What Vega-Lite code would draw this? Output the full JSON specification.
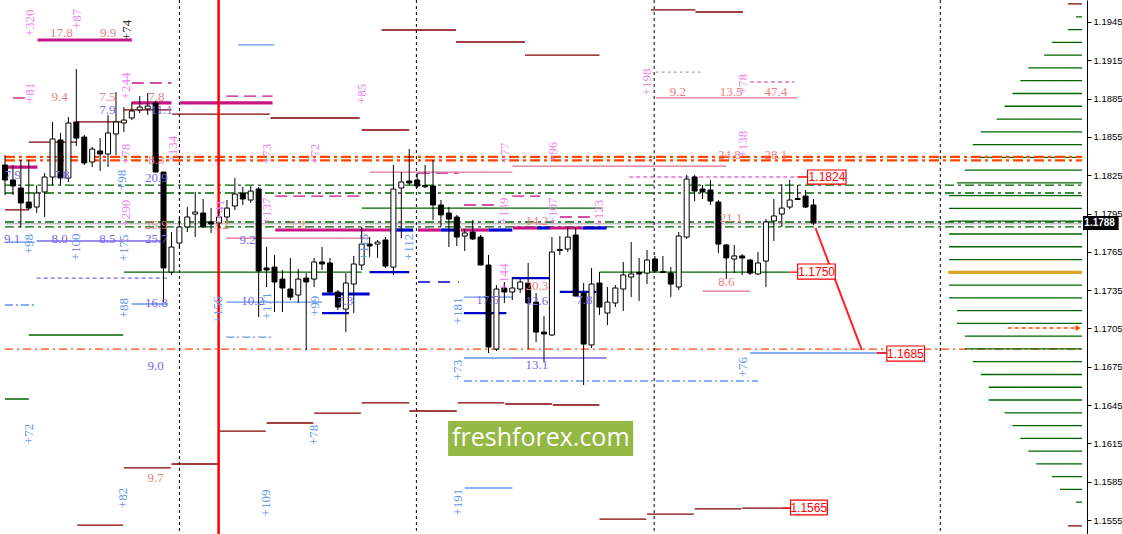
{
"$schema":"https://vega.github.io/schema/vega-lite/v6.json",
"width":1087,"height":534,
"autosize":{"type":"none"},
"padding":{"left":0,"top":0,"right":35,"bottom":0},
"background":"white",
"config":{"view":{"stroke":null},"axis":{"title":null,"format":".4f","labelFont":"Liberation Sans","labelFontSize":9.5,"labelColor":"black","tickColor":"black","domainColor":"black","tickSize":4,"labelPadding":2,"grid":false,"labelOverlap":false}},
"resolve":{"scale":{"color":"independent","strokeDash":"independent"}},
"datasets":{
"candles":[
{"k":0,"o":1.18330,"c":1.18213,"h":1.18408,"l":1.18095},
{"k":1,"o":1.18213,"c":1.18166,"h":1.18330,"l":1.18095},
{"k":2,"o":1.18150,"c":1.18033,"h":1.18369,"l":1.17837},
{"k":3,"o":1.18040,"c":1.17993,"h":1.18369,"l":1.17978},
{"k":4,"o":1.18001,"c":1.18111,"h":1.18173,"l":1.17954},
{"k":5,"o":1.18119,"c":1.18236,"h":1.18267,"l":1.17923},
{"k":6,"o":1.18236,"c":1.18534,"h":1.18667,"l":1.18173},
{"k":7,"o":1.18526,"c":1.18228,"h":1.18581,"l":1.18173},
{"k":8,"o":1.18228,"c":1.18659,"h":1.18706,"l":1.18197},
{"k":9,"o":1.18667,"c":1.18541,"h":1.19082,"l":1.18479},
{"k":10,"o":1.18549,"c":1.18346,"h":1.18565,"l":1.18330},
{"k":11,"o":1.18354,"c":1.18455,"h":1.18471,"l":1.18314},
{"k":12,"o":1.18440,"c":1.18416,"h":1.18541,"l":1.18283},
{"k":13,"o":1.18416,"c":1.18581,"h":1.18722,"l":1.18314},
{"k":14,"o":1.18573,"c":1.18667,"h":1.18902,"l":1.18408},
{"k":15,"o":1.18659,"c":1.18682,"h":1.18784,"l":1.18588},
{"k":16,"o":1.18698,"c":1.18753,"h":1.18823,"l":1.18682},
{"k":17,"o":1.18761,"c":1.18784,"h":1.18870,"l":1.18737},
{"k":18,"o":1.18769,"c":1.18792,"h":1.18894,"l":1.18722},
{"k":19,"o":1.18816,"c":1.18275,"h":1.18831,"l":1.18275},
{"k":20,"o":1.18275,"c":1.17524,"h":1.18275,"l":1.17257},
{"k":21,"o":1.17492,"c":1.17688,"h":1.17805,"l":1.17469},
{"k":22,"o":1.17719,"c":1.17845,"h":1.17915,"l":1.17680},
{"k":23,"o":1.17845,"c":1.17923,"h":1.18001,"l":1.17805},
{"k":24,"o":1.17946,"c":1.17962,"h":1.18119,"l":1.17766},
{"k":25,"o":1.17954,"c":1.17845,"h":1.18064,"l":1.17837},
{"k":26,"o":1.17884,"c":1.17868,"h":1.17993,"l":1.17798},
{"k":27,"o":1.17876,"c":1.17923,"h":1.17993,"l":1.17837},
{"k":28,"o":1.17923,"c":1.17993,"h":1.18056,"l":1.17884},
{"k":29,"o":1.18009,"c":1.18103,"h":1.18228,"l":1.17978},
{"k":30,"o":1.18111,"c":1.18064,"h":1.18158,"l":1.18017},
{"k":31,"o":1.18056,"c":1.18126,"h":1.18166,"l":1.18033},
{"k":32,"o":1.18142,"c":1.17500,"h":1.18158,"l":1.17140},
{"k":33,"o":1.17524,"c":1.17508,"h":1.17688,"l":1.17375},
{"k":34,"o":1.17531,"c":1.17414,"h":1.17625,"l":1.17179},
{"k":35,"o":1.17437,"c":1.17367,"h":1.17508,"l":1.17179},
{"k":36,"o":1.17359,"c":1.17296,"h":1.17602,"l":1.17273},
{"k":37,"o":1.17312,"c":1.17437,"h":1.17516,"l":1.17250},
{"k":38,"o":1.17445,"c":1.17414,"h":1.17484,"l":1.16881},
{"k":39,"o":1.17437,"c":1.17571,"h":1.17602,"l":1.17375},
{"k":40,"o":1.17571,"c":1.17555,"h":1.17688,"l":1.17508},
{"k":41,"o":1.17563,"c":1.17336,"h":1.17602,"l":1.17328},
{"k":42,"o":1.17336,"c":1.17218,"h":1.17351,"l":1.17195},
{"k":43,"o":1.17202,"c":1.17406,"h":1.17484,"l":1.17022},
{"k":44,"o":1.17398,"c":1.17555,"h":1.17618,"l":1.17171},
{"k":45,"o":1.17547,"c":1.17711,"h":1.17845,"l":1.17508},
{"k":46,"o":1.17711,"c":1.17696,"h":1.17766,"l":1.17610},
{"k":47,"o":1.17711,"c":1.17727,"h":1.17743,"l":1.17602},
{"k":48,"o":1.17743,"c":1.17539,"h":1.17766,"l":1.17524},
{"k":49,"o":1.17531,"c":1.18142,"h":1.18330,"l":1.17469},
{"k":50,"o":1.18150,"c":1.18197,"h":1.18275,"l":1.17758},
{"k":51,"o":1.18205,"c":1.18189,"h":1.18455,"l":1.18173},
{"k":52,"o":1.18213,"c":1.18166,"h":1.18267,"l":1.18150},
{"k":53,"o":1.18170,"c":1.18160,"h":1.18330,"l":1.18150},
{"k":54,"o":1.18166,"c":1.18017,"h":1.18369,"l":1.17899},
{"k":55,"o":1.18017,"c":1.17939,"h":1.18056,"l":1.17845},
{"k":56,"o":1.17954,"c":1.17907,"h":1.18001,"l":1.17688},
{"k":57,"o":1.17923,"c":1.17766,"h":1.17939,"l":1.17696},
{"k":58,"o":1.17774,"c":1.17798,"h":1.17829,"l":1.17657},
{"k":59,"o":1.17805,"c":1.17751,"h":1.17899,"l":1.17743},
{"k":60,"o":1.17766,"c":1.17547,"h":1.17782,"l":1.17547},
{"k":61,"o":1.17547,"c":1.16905,"h":1.17625,"l":1.16858},
{"k":62,"o":1.16889,"c":1.17359,"h":1.17390,"l":1.16874},
{"k":63,"o":1.17367,"c":1.17336,"h":1.17414,"l":1.17250},
{"k":64,"o":1.17336,"c":1.17367,"h":1.17453,"l":1.17273},
{"k":65,"o":1.17359,"c":1.17414,"h":1.17445,"l":1.17328},
{"k":66,"o":1.17406,"c":1.17250,"h":1.17563,"l":1.16889},
{"k":67,"o":1.17257,"c":1.17022,"h":1.17328,"l":1.16944},
{"k":68,"o":1.17022,"c":1.17007,"h":1.17148,"l":1.16788},
{"k":69,"o":1.16999,"c":1.17649,"h":1.17766,"l":1.16991},
{"k":70,"o":1.17661,"c":1.17669,"h":1.17774,"l":1.17625},
{"k":71,"o":1.17672,"c":1.17766,"h":1.17845,"l":1.17649},
{"k":72,"o":1.17782,"c":1.17304,"h":1.17845,"l":1.17304},
{"k":73,"o":1.17328,"c":1.16928,"h":1.17406,"l":1.16607},
{"k":74,"o":1.16921,"c":1.17398,"h":1.17524,"l":1.16897},
{"k":75,"o":1.17406,"c":1.17218,"h":1.17492,"l":1.17156},
{"k":76,"o":1.17171,"c":1.17257,"h":1.17375,"l":1.17077},
{"k":77,"o":1.17250,"c":1.17367,"h":1.17390,"l":1.17218},
{"k":78,"o":1.17359,"c":1.17469,"h":1.17571,"l":1.17187},
{"k":79,"o":1.17453,"c":1.17477,"h":1.17727,"l":1.17296},
{"k":80,"o":1.17488,"c":1.17477,"h":1.17602,"l":1.17265},
{"k":81,"o":1.17484,"c":1.17586,"h":1.17664,"l":1.17398},
{"k":82,"o":1.17594,"c":1.17500,"h":1.17618,"l":1.17492},
{"k":83,"o":1.17496,"c":1.17488,"h":1.17618,"l":1.17484},
{"k":84,"o":1.17484,"c":1.17398,"h":1.17531,"l":1.17296},
{"k":85,"o":1.17375,"c":1.17774,"h":1.17805,"l":1.17351},
{"k":86,"o":1.17766,"c":1.18220,"h":1.18252,"l":1.17751},
{"k":87,"o":1.18236,"c":1.18126,"h":1.18252,"l":1.18048},
{"k":88,"o":1.18142,"c":1.18119,"h":1.18173,"l":1.18064},
{"k":89,"o":1.18134,"c":1.18048,"h":1.18213,"l":1.18017},
{"k":90,"o":1.18040,"c":1.17711,"h":1.18056,"l":1.17641},
{"k":91,"o":1.17704,"c":1.17602,"h":1.17711,"l":1.17437},
{"k":92,"o":1.17594,"c":1.17618,"h":1.17704,"l":1.17484},
{"k":93,"o":1.17618,"c":1.17602,"h":1.17633,"l":1.17469},
{"k":94,"o":1.17586,"c":1.17484,"h":1.17594,"l":1.17469},
{"k":95,"o":1.17477,"c":1.17563,"h":1.17649,"l":1.17469},
{"k":96,"o":1.17578,"c":1.17884,"h":1.17907,"l":1.17375},
{"k":97,"o":1.17892,"c":1.17931,"h":1.18064,"l":1.17735},
{"k":98,"o":1.17946,"c":1.17993,"h":1.18181,"l":1.17845},
{"k":99,"o":1.18001,"c":1.18056,"h":1.18213,"l":1.17985},
{"k":100,"o":1.18068,"c":1.18060,"h":1.18173,"l":1.18056},
{"k":101,"o":1.18087,"c":1.18001,"h":1.18134,"l":1.17993},
{"k":102,"o":1.18017,"c":1.17876,"h":1.18064,"l":1.17860}
],
"segs":[
{"t":"grdd","a":0,"b":135.875,"p":1.18173},
{"t":"grdd","a":0,"b":135.875,"p":1.18111},
{"t":"grdd","a":0,"b":135.875,"p":1.17884},
{"t":"grdd","a":0,"b":135.875,"p":1.17845},
{"t":"gy","a":0,"b":135.875,"p":1.17870},
{"t":"ordd","a":0,"b":135.875,"p":1.18393},
{"t":"ordd","a":0,"b":135.875,"p":1.18366},
{"t":"or1","a":0,"b":135.875,"p":1.16889},
{"t":"dr","a":0,"b":3,"p":1.17978},
{"t":"dr","a":3,"b":9,"p":1.18510},
{"t":"dr","a":9,"b":15,"p":1.18667},
{"t":"dr","a":15,"b":21,"p":1.18761},
{"t":"dr","a":21.1,"b":33.4,"p":1.18729},
{"t":"dr","a":33.5,"b":44.75,"p":1.18698},
{"t":"dr","a":45,"b":51,"p":1.18604},
{"t":"dr","a":47.5,"b":56.9,"p":1.19387},
{"t":"dr","a":56.9,"b":65.6,"p":1.19293},
{"t":"dr","a":65.6,"b":75,"p":1.19191},
{"t":"dr","a":81.5,"b":87.1,"p":1.19544},
{"t":"dr","a":87.1,"b":93.1,"p":1.19528},
{"t":"dr","a":9.1,"b":14.9,"p":1.15511},
{"t":"dr","a":15,"b":20.9,"p":1.15958},
{"t":"dr","a":21,"b":26.9,"p":1.15989},
{"t":"dr","a":27.1,"b":32.9,"p":1.16247},
{"t":"dr","a":33,"b":38.9,"p":1.16310},
{"t":"dr","a":39,"b":44.9,"p":1.16388},
{"t":"dr","a":45,"b":51,"p":1.16467},
{"t":"dr","a":51,"b":57,"p":1.16404},
{"t":"dr","a":57.1,"b":63,"p":1.16467},
{"t":"dr","a":63.1,"b":69,"p":1.16459},
{"t":"dr","a":69.1,"b":75,"p":1.16451},
{"t":"dr","a":75,"b":80.9,"p":1.15558},
{"t":"dr","a":81,"b":86.9,"p":1.15597},
{"t":"dr","a":87,"b":92.9,"p":1.15637},
{"t":"dr","a":93,"b":99,"p":1.15644},
{"t":"dr","a":134.1,"b":135.875,"p":1.19591},
{"t":"dr","a":134.1,"b":135.875,"p":1.15505},
{"t":"gr","a":15,"b":45,"p":1.17492},
{"t":"gr","a":75,"b":99,"p":1.17492},
{"t":"gr","a":45,"b":75.25,"p":1.17993},
{"t":"gr","a":3,"b":14.9,"p":1.16999},
{"t":"gr","a":0,"b":3,"p":1.16498},
{"t":"mg","a":4.1,"b":16,"p":1.19309},
{"t":"mg","a":16,"b":21,"p":1.18816},
{"t":"mg","a":22.1,"b":33.75,"p":1.18816},
{"t":"mg","a":0,"b":4.1,"p":1.18314},
{"t":"mg","a":34.1,"b":49.4,"p":1.17821},
{"t":"mg","a":52.1,"b":55,"p":1.17821},
{"t":"mg","a":57.5,"b":61,"p":1.17821},
{"t":"mg","a":64.1,"b":67.1,"p":1.17837},
{"t":"mg","a":68.75,"b":72.9,"p":1.17837},
{"t":"mgd","a":16,"b":21,"p":1.18972},
{"t":"mgd","a":27.9,"b":33.75,"p":1.18870},
{"t":"mgd","a":34.1,"b":45.25,"p":1.18087},
{"t":"mgd","a":52.1,"b":57.25,"p":1.18267},
{"t":"mgd","a":57.9,"b":62.1,"p":1.18017},
{"t":"mgd","a":64,"b":67.5,"p":1.18087},
{"t":"mgd","a":70,"b":74.6,"p":1.17923},
{"t":"mgd","a":1,"b":2.9,"p":1.18855},
{"t":"pk","a":27.9,"b":46,"p":1.17758},
{"t":"pk","a":46,"b":64,"p":1.18275},
{"t":"pk","a":64,"b":91,"p":1.18322},
{"t":"pk","a":82.1,"b":100,"p":1.18855},
{"t":"pk","a":88,"b":94,"p":1.17343},
{"t":"pld","a":78.75,"b":100,"p":1.18236},
{"t":"pld","a":94,"b":99.6,"p":1.18980},
{"t":"gyd","a":82.1,"b":87.75,"p":1.19058},
{"t":"blk","a":40,"b":46,"p":1.17320},
{"t":"bl","a":40,"b":43.4,"p":1.17171},
{"t":"bl","a":46,"b":51,"p":1.17492},
{"t":"bl","a":57.9,"b":63.25,"p":1.17171},
{"t":"bl","a":64,"b":68.75,"p":1.17445},
{"t":"bl","a":70,"b":74.6,"p":1.17336},
{"t":"blk","a":49.4,"b":51.5,"p":1.17821},
{"t":"blk","a":55,"b":57.25,"p":1.17821},
{"t":"blk","a":61,"b":64,"p":1.17821},
{"t":"blk","a":67.1,"b":68.75,"p":1.17837},
{"t":"blk","a":72.9,"b":75.9,"p":1.17837},
{"t":"bld","a":52.1,"b":57.25,"p":1.17414},
{"t":"cb","a":0,"b":3.75,"p":1.17727},
{"t":"cb","a":16,"b":20.6,"p":1.17242},
{"t":"cb","a":27.9,"b":40,"p":1.17257},
{"t":"cb","a":29.4,"b":34,"p":1.19270},
{"t":"cb","a":57.9,"b":64,"p":1.17296},
{"t":"cb","a":58,"b":64,"p":1.15801},
{"t":"cb","a":94,"b":111.25,"p":1.16858},
{"t":"cb","a":57.9,"b":64,"p":1.16819},
{"t":"cbd","a":0,"b":3.75,"p":1.17234},
{"t":"cbd","a":27.9,"b":33.75,"p":1.16983},
{"t":"cbd","a":57.9,"b":95,"p":1.16639},
{"t":"pu","a":4,"b":20,"p":1.17735},
{"t":"pu","a":64,"b":75.9,"p":1.16819},
{"t":"pud","a":4,"b":20.6,"p":1.17445},
{"t":"rd","a":99,"b":100,"p":1.17492},
{"t":"rd","a":100,"b":101.25,"p":1.18236},
{"t":"rd","a":110,"b":111.25,"p":1.16858},
{"t":"rd","a":98.1,"b":99.1,"p":1.15644},
{"t":"ord","a":126.5,"b":135.3,"p":1.17054},
{"t":"gr","a":135.1,"b":135.875,"p":1.1949},
{"t":"gr","a":134.1,"b":135.875,"p":1.1939},
{"t":"gr","a":132.1,"b":135.875,"p":1.1929},
{"t":"gr","a":131.1,"b":135.875,"p":1.1919},
{"t":"gr","a":129.1,"b":135.875,"p":1.1909},
{"t":"gr","a":128.1,"b":135.875,"p":1.1899},
{"t":"gr","a":127.1,"b":135.875,"p":1.1889},
{"t":"gr","a":126.1,"b":135.875,"p":1.1879},
{"t":"gr","a":125.1,"b":135.875,"p":1.1869},
{"t":"gr","a":123.1,"b":135.875,"p":1.1859},
{"t":"gr","a":122.1,"b":135.875,"p":1.1849},
{"t":"gr","a":122.1,"b":135.875,"p":1.1839},
{"t":"gr","a":121.1,"b":135.875,"p":1.1829},
{"t":"gr","a":120.1,"b":135.875,"p":1.1819},
{"t":"gr","a":119.1,"b":135.875,"p":1.1809},
{"t":"gr","a":119.1,"b":135.875,"p":1.1799},
{"t":"gr","a":119.1,"b":135.875,"p":1.1789},
{"t":"gr","a":119.1,"b":135.875,"p":1.1779},
{"t":"gr","a":119.1,"b":135.875,"p":1.1769},
{"t":"gr","a":119.1,"b":135.875,"p":1.1759},
{"t":"gold","a":119.0,"b":135.875,"p":1.1749},
{"t":"gr","a":119.1,"b":135.875,"p":1.1739},
{"t":"gr","a":119.1,"b":135.875,"p":1.1729},
{"t":"gr","a":120.1,"b":135.875,"p":1.1719},
{"t":"gr","a":120.1,"b":135.875,"p":1.1709},
{"t":"gr","a":121.1,"b":135.875,"p":1.1699},
{"t":"gr","a":121.1,"b":135.875,"p":1.1689},
{"t":"gr","a":122.1,"b":135.875,"p":1.1679},
{"t":"gr","a":123.1,"b":135.875,"p":1.1669},
{"t":"gr","a":124.1,"b":135.875,"p":1.1659},
{"t":"gr","a":124.1,"b":135.875,"p":1.1649},
{"t":"gr","a":126.1,"b":135.875,"p":1.1639},
{"t":"gr","a":127.1,"b":135.875,"p":1.1629},
{"t":"gr","a":128.1,"b":135.875,"p":1.1619},
{"t":"gr","a":129.1,"b":135.875,"p":1.1609},
{"t":"gr","a":130.1,"b":135.875,"p":1.1599},
{"t":"gr","a":132.1,"b":135.875,"p":1.1589},
{"t":"gr","a":133.1,"b":135.875,"p":1.1579},
{"t":"gr","a":135.1,"b":135.875,"p":1.1569}
],
"texts":[
{"s":"17.8","k":7.1,"p":1.19364,"t":"sal","r":"h"},
{"s":"9.9","k":13,"p":1.19364,"t":"sal","r":"h"},
{"s":"9.4","k":6.9,"p":1.18862,"t":"sal","r":"h"},
{"s":"7.5","k":12.9,"p":1.18862,"t":"sal","r":"h"},
{"s":"7.8","k":19.1,"p":1.18862,"t":"sal","r":"h"},
{"s":"8.3","k":19.1,"p":1.18370,"t":"sal","r":"h"},
{"s":"25.9","k":19.1,"p":1.17860,"t":"sal","r":"h"},
{"s":"7.2","k":27.25,"p":1.17860,"t":"sal","r":"h"},
{"s":"7.2","k":36.9,"p":1.17860,"t":"sal","r":"h"},
{"s":"14.2","k":67.1,"p":1.17892,"t":"sal","r":"h"},
{"s":"20.3","k":67.1,"p":1.17383,"t":"sal","r":"h"},
{"s":"9.2","k":84.9,"p":1.18902,"t":"sal","r":"h"},
{"s":"13.5","k":91.6,"p":1.18902,"t":"sal","r":"h"},
{"s":"47.4","k":97.25,"p":1.18902,"t":"sal","r":"h"},
{"s":"24.8","k":91.4,"p":1.18408,"t":"sal","r":"h"},
{"s":"28.1","k":97.25,"p":1.18408,"t":"sal","r":"h"},
{"s":"21.1","k":91.6,"p":1.17915,"t":"sal","r":"h"},
{"s":"8.6","k":91,"p":1.17414,"t":"sal","r":"h"},
{"s":"9.7","k":19,"p":1.15879,"t":"sal","r":"h"},
{"s":"7.9","k":12.9,"p":1.18761,"t":"pur","r":"h"},
{"s":"11.1","k":19.75,"p":1.18761,"t":"pur","r":"h"},
{"s":"7.9","k":1,"p":1.18252,"t":"pur","r":"h"},
{"s":"7.8","k":7.1,"p":1.18252,"t":"pur","r":"h"},
{"s":"20.9","k":19.1,"p":1.18230,"t":"pur","r":"h"},
{"s":"9.1","k":0.9,"p":1.17751,"t":"pur","r":"h"},
{"s":"8.0","k":6.9,"p":1.17751,"t":"pur","r":"h"},
{"s":"8.5","k":12.9,"p":1.17751,"t":"pur","r":"h"},
{"s":"25.7","k":19.1,"p":1.17751,"t":"pur","r":"h"},
{"s":"16.8","k":19.1,"p":1.17250,"t":"pur","r":"h"},
{"s":"9.2","k":30.6,"p":1.17743,"t":"pur","r":"h"},
{"s":"10.2","k":31.25,"p":1.17265,"t":"pur","r":"h"},
{"s":"7.3","k":42.9,"p":1.17265,"t":"pur","r":"h"},
{"s":"17.5","k":60.9,"p":1.17273,"t":"pur","r":"h"},
{"s":"12.6","k":67.1,"p":1.17265,"t":"pur","r":"h"},
{"s":"7.8","k":73.1,"p":1.17273,"t":"pur","r":"h"},
{"s":"13.1","k":67.1,"p":1.16764,"t":"pur","r":"h"},
{"s":"9.0","k":19,"p":1.16756,"t":"pur","r":"h"},
{"s":"+320","k":3.1,"p":1.19442,"t":"vi","r":"v"},
{"s":"+87","k":9.1,"p":1.19473,"t":"vi","r":"v"},
{"s":"+74","k":15.4,"p":1.19387,"t":"blk","r":"v"},
{"s":"+81","k":3.1,"p":1.18894,"t":"vi","r":"v"},
{"s":"+244","k":15.25,"p":1.18949,"t":"vi","r":"v"},
{"s":"+134","k":21.25,"p":1.18455,"t":"vi","r":"v"},
{"s":"+78","k":15.25,"p":1.18416,"t":"vi","r":"v"},
{"s":"+290","k":15.25,"p":1.17954,"t":"vi","r":"v"},
{"s":"+73","k":33.1,"p":1.18416,"t":"vi","r":"v"},
{"s":"+72","k":39.1,"p":1.18416,"t":"vi","r":"v"},
{"s":"+85","k":45,"p":1.18886,"t":"vi","r":"v"},
{"s":"+41","k":27.1,"p":1.17978,"t":"vi","r":"v"},
{"s":"+137","k":33.1,"p":1.17970,"t":"vi","r":"v"},
{"s":"+77","k":63.1,"p":1.18424,"t":"vi","r":"v"},
{"s":"+96","k":69.1,"p":1.18432,"t":"vi","r":"v"},
{"s":"+139","k":63,"p":1.17970,"t":"vi","r":"v"},
{"s":"+107","k":69.1,"p":1.17970,"t":"vi","r":"v"},
{"s":"+123","k":75,"p":1.17954,"t":"vi","r":"v"},
{"s":"+144","k":63,"p":1.17453,"t":"vi","r":"v"},
{"s":"+198","k":81,"p":1.18980,"t":"vi","r":"v"},
{"s":"+78","k":93.1,"p":1.18964,"t":"vi","r":"v"},
{"s":"+138","k":93.1,"p":1.18494,"t":"vi","r":"v"},
{"s":"+98","k":14.75,"p":1.18213,"t":"cb","r":"v"},
{"s":"+98","k":3,"p":1.17711,"t":"cb","r":"v"},
{"s":"+100","k":9,"p":1.17688,"t":"cb","r":"v"},
{"s":"+175","k":15,"p":1.17680,"t":"cb","r":"v"},
{"s":"+88","k":15,"p":1.17210,"t":"cb","r":"v"},
{"s":"+156","k":26.9,"p":1.17195,"t":"cb","r":"v"},
{"s":"+171","k":33.1,"p":1.17226,"t":"cb","r":"v"},
{"s":"+99","k":39.1,"p":1.17226,"t":"cb","r":"v"},
{"s":"+115","k":45.25,"p":1.17688,"t":"cb","r":"v"},
{"s":"+112","k":51,"p":1.17688,"t":"cb","r":"v"},
{"s":"+181","k":57.1,"p":1.17187,"t":"cb","r":"v"},
{"s":"+73","k":57.1,"p":1.16725,"t":"cb","r":"v"},
{"s":"+76","k":93.1,"p":1.16748,"t":"cb","r":"v"},
{"s":"+72","k":3,"p":1.16224,"t":"cb","r":"v"},
{"s":"+78","k":39,"p":1.16216,"t":"cb","r":"v"},
{"s":"+82","k":14.9,"p":1.15723,"t":"cb","r":"v"},
{"s":"+109","k":32.9,"p":1.15684,"t":"cb","r":"v"},
{"s":"+191","k":57.1,"p":1.15691,"t":"cb","r":"v"}
],
"boxes":[
{"s":"1.1824","a":101.25,"b":106.1,"p1":1.18291,"p2":1.18181,"c":103.7,"m":1.18236},
{"s":"1.1750","a":100,"b":104.75,"p1":1.17555,"p2":1.17437,"c":102.4,"m":1.17496},
{"s":"1.1685","a":111.25,"b":116,"p1":1.16913,"p2":1.16795,"c":113.6,"m":1.16854},
{"s":"1.1565","a":99.1,"b":103.75,"p1":1.15707,"p2":1.15590,"c":101.4,"m":1.15648}
]
},
"layer":[
{"data":{"name":"segs"},
 "transform":[{"filter":{"field":"t","oneOf":["dr","gr","grdd","or1","mgd","pk","pld","gyd","cb","cbd","pu","pud","rd","ord","bld","gy"]}}],
 "mark":{"type":"rule","strokeWidth":1.3},
 "encoding":{
  "x":{"field":"a","type":"quantitative","scale":{"domain":[0,135.875],"nice":false,"zero":false},"axis":null},
  "x2":{"field":"b"},
  "y":{"field":"p","type":"quantitative","scale":{"domain":[1.15441,1.19622],"nice":false,"zero":false},"axis":{"orient":"right","values":[1.1555,1.1585,1.1615,1.1645,1.1675,1.1705,1.1735,1.1765,1.1795,1.1825,1.1855,1.1885,1.1915,1.1945]}},
  "color":{"field":"t","type":"nominal","legend":null,"scale":{"domain":["dr","gr","grdd","or1","mgd","pk","pld","gyd","cb","cbd","pu","pud","rd","ord","bld","gy"],"range":["#800000","#006400","#006400","#FF4500","#C71585","#DB7093","#DA70D6","#A9A9A9","#6495ED","#6495ED","#7B68EE","#7B68EE","#FF0000","#FF4500","#0000CD","#C0C0C0"]}},
  "strokeDash":{"field":"t","type":"nominal","legend":null,"scale":{"domain":["dr","gr","grdd","or1","mgd","pk","pld","gyd","cb","cbd","pu","pud","rd","ord","bld","gy"],"range":[[1,0],[1,0],[9,4,3,4],[8,4,2,4],[12,6],[1,0],[4,3],[3,3],[1,0],[8,3,2,3],[1,0],[4,3],[1,0],[4,3],[12,8],[1,0]]}}
 }},
{"data":{"name":"segs"},
 "transform":[{"filter":{"field":"t","oneOf":["ordd","bl"]}}],
 "mark":{"type":"rule","strokeWidth":2.2},
 "encoding":{
  "x":{"field":"a","type":"quantitative","scale":{"domain":[0,135.875],"nice":false,"zero":false},"axis":null},
  "x2":{"field":"b"},
  "y":{"field":"p","type":"quantitative","scale":{"domain":[1.15441,1.19622],"nice":false,"zero":false},"axis":{"orient":"right","values":[1.1555,1.1585,1.1615,1.1645,1.1675,1.1705,1.1735,1.1765,1.1795,1.1825,1.1855,1.1885,1.1915,1.1945]}},
  "color":{"field":"t","type":"nominal","legend":null,"scale":{"domain":["ordd","bl"],"range":["#FF4500","#0000CD"]}},
  "strokeDash":{"field":"t","type":"nominal","legend":null,"scale":{"domain":["ordd","bl"],"range":[[10,4,3,4],[1,0]]}}
 }},
{"data":{"name":"segs"},
 "transform":[{"filter":{"field":"t","oneOf":["mg","blk","gold"]}}],
 "mark":{"type":"rule","strokeWidth":3.2},
 "encoding":{
  "x":{"field":"a","type":"quantitative","scale":{"domain":[0,135.875],"nice":false,"zero":false},"axis":null},
  "x2":{"field":"b"},
  "y":{"field":"p","type":"quantitative","scale":{"domain":[1.15441,1.19622],"nice":false,"zero":false},"axis":{"orient":"right","values":[1.1555,1.1585,1.1615,1.1645,1.1675,1.1705,1.1735,1.1765,1.1795,1.1825,1.1855,1.1885,1.1915,1.1945]}},
  "color":{"field":"t","type":"nominal","legend":null,"scale":{"domain":["mg","blk","gold"],"range":["#C71585","#0000CD","#DAA520"]}}
 }},
{"data":{"values":[{"k":22},{"k":51.9},{"k":81.9},{"k":118}]},
 "mark":{"type":"rule","color":"black","strokeWidth":1,"strokeDash":[3,3]},
 "encoding":{"x":{"field":"k","type":"quantitative","scale":{"domain":[0,135.875],"nice":false,"zero":false},"axis":null}}},
{"data":{"values":[{"k":26.95}]},
 "mark":{"type":"rule","color":"#FF0000","strokeWidth":2.5},
 "encoding":{"x":{"field":"k","type":"quantitative","scale":{"domain":[0,135.875],"nice":false,"zero":false},"axis":null}}},
{"data":{"name":"candles"},
 "mark":{"type":"rule","color":"black","strokeWidth":1},
 "encoding":{
  "x":{"field":"k","type":"quantitative","scale":{"domain":[0,135.875],"nice":false,"zero":false},"axis":null},
  "y":{"field":"l","type":"quantitative","scale":{"domain":[1.15441,1.19622],"nice":false,"zero":false},"axis":{"orient":"right","values":[1.1555,1.1585,1.1615,1.1645,1.1675,1.1705,1.1735,1.1765,1.1795,1.1825,1.1855,1.1885,1.1915,1.1945]}},
  "y2":{"field":"h"}}},
{"data":{"name":"candles"},
 "mark":{"type":"bar","width":5,"stroke":"black","strokeWidth":1},
 "encoding":{
  "x":{"field":"k","type":"quantitative","scale":{"domain":[0,135.875],"nice":false,"zero":false},"axis":null},
  "y":{"field":"o","type":"quantitative","scale":{"domain":[1.15441,1.19622],"nice":false,"zero":false},"axis":{"orient":"right","values":[1.1555,1.1585,1.1615,1.1645,1.1675,1.1705,1.1735,1.1765,1.1795,1.1825,1.1855,1.1885,1.1915,1.1945]}},
  "y2":{"field":"c"},
  "fill":{"condition":{"test":"datum.c >= datum.o","value":"white"},"value":"black"}}},
{"data":{"values":[{"k":102.25,"p":1.17837},{"k":108.1,"p":1.16881}]},
 "mark":{"type":"line","color":"#FF2020","strokeWidth":2},
 "encoding":{
  "x":{"field":"k","type":"quantitative","scale":{"domain":[0,135.875],"nice":false,"zero":false},"axis":null},
  "y":{"field":"p","type":"quantitative","scale":{"domain":[1.15441,1.19622],"nice":false,"zero":false},"axis":{"orient":"right","values":[1.1555,1.1585,1.1615,1.1645,1.1675,1.1705,1.1735,1.1765,1.1795,1.1825,1.1855,1.1885,1.1915,1.1945]}}}},
{"data":{"values":[{"k":135.4,"p":1.17054}]},
 "mark":{"type":"point","shape":"triangle-right","filled":true,"color":"#FF4500","size":35,"opacity":1},
 "encoding":{
  "x":{"field":"k","type":"quantitative","scale":{"domain":[0,135.875],"nice":false,"zero":false},"axis":null},
  "y":{"field":"p","type":"quantitative","scale":{"domain":[1.15441,1.19622],"nice":false,"zero":false},"axis":{"orient":"right","values":[1.1555,1.1585,1.1615,1.1645,1.1675,1.1705,1.1735,1.1765,1.1795,1.1825,1.1855,1.1885,1.1915,1.1945]}}}},
{"data":{"name":"texts"},
 "transform":[{"filter":"datum.r == 'h'"}],
 "mark":{"type":"text","font":"Liberation Serif","fontSize":13,"align":"center","baseline":"middle"},
 "encoding":{
  "x":{"field":"k","type":"quantitative","scale":{"domain":[0,135.875],"nice":false,"zero":false},"axis":null},
  "y":{"field":"p","type":"quantitative","scale":{"domain":[1.15441,1.19622],"nice":false,"zero":false},"axis":{"orient":"right","values":[1.1555,1.1585,1.1615,1.1645,1.1675,1.1705,1.1735,1.1765,1.1795,1.1825,1.1855,1.1885,1.1915,1.1945]}},
  "text":{"field":"s"},
  "color":{"field":"t","type":"nominal","legend":null,"scale":{"domain":["sal","pur","vi","cb","blk"],"range":["#F08080","#7B68EE","#EE82EE","#6495ED","#333333"]}}}},
{"data":{"name":"texts"},
 "transform":[{"filter":"datum.r == 'v'"}],
 "mark":{"type":"text","font":"Liberation Serif","fontSize":13,"align":"center","baseline":"middle","angle":270},
 "encoding":{
  "x":{"field":"k","type":"quantitative","scale":{"domain":[0,135.875],"nice":false,"zero":false},"axis":null},
  "y":{"field":"p","type":"quantitative","scale":{"domain":[1.15441,1.19622],"nice":false,"zero":false},"axis":{"orient":"right","values":[1.1555,1.1585,1.1615,1.1645,1.1675,1.1705,1.1735,1.1765,1.1795,1.1825,1.1855,1.1885,1.1915,1.1945]}},
  "text":{"field":"s"},
  "color":{"field":"t","type":"nominal","legend":null,"scale":{"domain":["sal","pur","vi","cb","blk"],"range":["#F08080","#7B68EE","#EE82EE","#6495ED","#333333"]}}}},
{"data":{"name":"boxes"},
 "mark":{"type":"rect","fill":"white","stroke":"#FF0000","strokeWidth":1.2},
 "encoding":{
  "x":{"field":"a","type":"quantitative","scale":{"domain":[0,135.875],"nice":false,"zero":false},"axis":null},
  "x2":{"field":"b"},
  "y":{"field":"p1","type":"quantitative","scale":{"domain":[1.15441,1.19622],"nice":false,"zero":false},"axis":{"orient":"right","values":[1.1555,1.1585,1.1615,1.1645,1.1675,1.1705,1.1735,1.1765,1.1795,1.1825,1.1855,1.1885,1.1915,1.1945]}},
  "y2":{"field":"p2"}}},
{"data":{"name":"boxes"},
 "mark":{"type":"text","font":"Liberation Sans","fontSize":12,"color":"#FF0000","align":"center","baseline":"middle"},
 "encoding":{
  "x":{"field":"c","type":"quantitative","scale":{"domain":[0,135.875],"nice":false,"zero":false},"axis":null},
  "y":{"field":"m","type":"quantitative","scale":{"domain":[1.15441,1.19622],"nice":false,"zero":false},"axis":{"orient":"right","values":[1.1555,1.1585,1.1615,1.1645,1.1675,1.1705,1.1735,1.1765,1.1795,1.1825,1.1855,1.1885,1.1915,1.1945]}},
  "text":{"field":"s"}}},
{"data":{"values":[{"a":55.9,"b":79.25,"p1":1.16326,"p2":1.16052}]},
 "mark":{"type":"rect","fill":"#93B843"},
 "encoding":{
  "x":{"field":"a","type":"quantitative","scale":{"domain":[0,135.875],"nice":false,"zero":false},"axis":null},
  "x2":{"field":"b"},
  "y":{"field":"p1","type":"quantitative","scale":{"domain":[1.15441,1.19622],"nice":false,"zero":false},"axis":{"orient":"right","values":[1.1555,1.1585,1.1615,1.1645,1.1675,1.1705,1.1735,1.1765,1.1795,1.1825,1.1855,1.1885,1.1915,1.1945]}},
  "y2":{"field":"p2"}}},
{"data":{"values":[{"k":67.6,"p":1.16189,"s":"freshforex.com"}]},
 "mark":{"type":"text","font":"Open Sans","fontSize":25,"color":"white","align":"center","baseline":"middle"},
 "encoding":{
  "x":{"field":"k","type":"quantitative","scale":{"domain":[0,135.875],"nice":false,"zero":false},"axis":null},
  "y":{"field":"p","type":"quantitative","scale":{"domain":[1.15441,1.19622],"nice":false,"zero":false},"axis":{"orient":"right","values":[1.1555,1.1585,1.1615,1.1645,1.1675,1.1705,1.1735,1.1765,1.1795,1.1825,1.1855,1.1885,1.1915,1.1945]}},
  "text":{"field":"s"}}},
{"data":{"values":[{"a":136.0,"b":140.5,"p1":1.17931,"p2":1.17821}]},
 "mark":{"type":"rect","fill":"black"},
 "encoding":{
  "x":{"field":"a","type":"quantitative","scale":{"domain":[0,135.875],"nice":false,"zero":false},"axis":null},
  "x2":{"field":"b"},
  "y":{"field":"p1","type":"quantitative","scale":{"domain":[1.15441,1.19622],"nice":false,"zero":false},"axis":{"orient":"right","values":[1.1555,1.1585,1.1615,1.1645,1.1675,1.1705,1.1735,1.1765,1.1795,1.1825,1.1855,1.1885,1.1915,1.1945]}},
  "y2":{"field":"p2"}}},
{"data":{"values":[{"k":138.1,"p":1.17876,"s":"1.1788"}]},
 "mark":{"type":"text","font":"Liberation Sans","fontSize":10,"fontWeight":"bold","color":"white","align":"center","baseline":"middle"},
 "encoding":{
  "x":{"field":"k","type":"quantitative","scale":{"domain":[0,135.875],"nice":false,"zero":false},"axis":null},
  "y":{"field":"p","type":"quantitative","scale":{"domain":[1.15441,1.19622],"nice":false,"zero":false},"axis":{"orient":"right","values":[1.1555,1.1585,1.1615,1.1645,1.1675,1.1705,1.1735,1.1765,1.1795,1.1825,1.1855,1.1885,1.1915,1.1945]}},
  "text":{"field":"s"}}}
]
}
